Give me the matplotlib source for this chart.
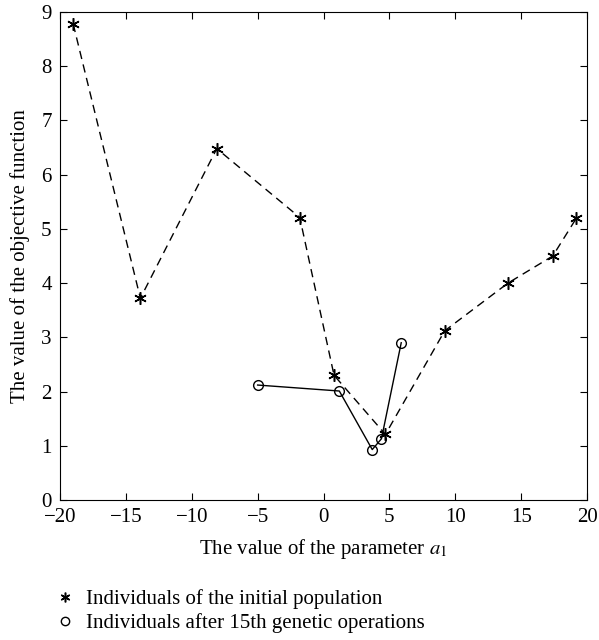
"""Objective function vs parameter a1: initial population and after GA."""

import matplotlib
import matplotlib.pyplot as plt
from matplotlib.lines import Line2D

matplotlib.use("Agg")

plt.rcParams["font.family"] = ["Liberation Serif", "DejaVu Serif"]
plt.rcParams["mathtext.fontset"] = "stix"

# Initial population (stars, dashed)
init_a1 = [-19.0, -13.9, -8.1, -1.8, 0.8, 4.7, 9.2, 14.0, 17.4, 19.2]
init_obj = [8.78, 3.72, 6.48, 5.21, 2.30, 1.21, 3.12, 4.00, 4.50, 5.20]

# After 15th genetic operations (circles, solid)
ga_a1 = [-5.0, 1.2, 3.7, 4.4, 5.9]
ga_obj = [2.12, 2.01, 0.93, 1.13, 2.90]

xticks = [-20, -15, -10, -5, 0, 5, 10, 15, 20]
yticks = list(range(0, 10))

fig = plt.figure(figsize=(5.99, 6.40), dpi=100)
ax = fig.add_axes([60 / 599, 1 - 500 / 640, 527 / 599, 488 / 640])

ax.plot(init_a1, init_obj, color="black", linestyle=(0, (6, 4)), linewidth=1.0,
        marker=(6, 2, 0), markersize=9, markeredgewidth=1.1)
ax.plot(ga_a1, ga_obj, color="black", linestyle="-", linewidth=1.0,
        marker="o", markersize=7, markerfacecolor="none", markeredgewidth=1.0)

ax.set_xlim(-20, 20)
ax.set_ylim(0, 9)
ax.set_xticks(xticks)
ax.set_xticklabels([str(t).replace("-", "\u2212") for t in xticks])
ax.set_yticks(yticks)
ax.tick_params(direction="in", top=True, right=True, length=5, labelsize=15,
               width=0.8)
ax.tick_params(axis="y", pad=6)
ax.tick_params(axis="x", pad=6)
for spine in ax.spines.values():
    spine.set_linewidth(0.8)

ax.set_xlabel("The value of the parameter $a_1$", fontsize=15, labelpad=7)
ax.set_ylabel("The value of the objective function", fontsize=15, labelpad=8)

handles = [
    Line2D([], [], color="black", linestyle="none", marker=(6, 2, 0),
           markersize=7, markeredgewidth=1.1),
    Line2D([], [], color="black", linestyle="none", marker="o",
           markersize=6, markerfacecolor="none", markeredgewidth=1.0),
]
labels = ["Individuals of the initial population",
          "Individuals after 15th genetic operations"]
fig.legend(handles, labels, loc="upper left", bbox_to_anchor=(55 / 599, 1 - 589 / 640),
           frameon=False, fontsize=15, handlelength=1.0, handletextpad=0.5,
           labelspacing=0.2, borderpad=0, borderaxespad=0)

fig.savefig("out.png", dpi=100, facecolor="white")
plt.close(fig)
